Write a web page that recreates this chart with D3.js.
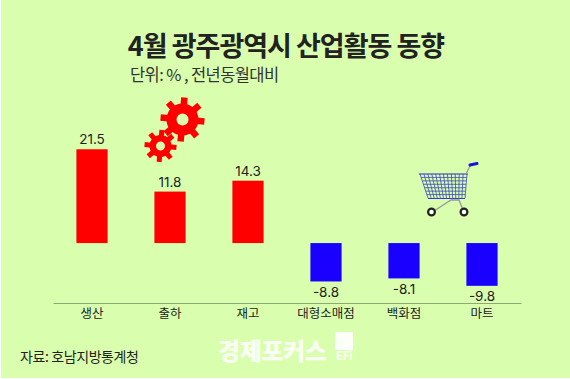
<!DOCTYPE html>
<html>
<head>
<meta charset="utf-8">
<script src="https://cdnjs.cloudflare.com/ajax/libs/d3/7.8.5/d3.min.js"></script>
<style>
html, body { margin: 0; padding: 0; background: #fff; }
svg { display: block; }
text { font-family: "Noto Sans CJK KR", sans-serif; }
</style>
</head>
<body>
<div id="plot"></div>
<script>
var categories = ["생산", "출하", "재고", "대형소매점", "백화점", "마트"]
var values = [21.5, 11.8, 14.3, -8.8, -8.1, -9.8]
var valueLabels = ["21.5", "11.8", "14.3", "-8.8", "-8.1", "-9.8"]

var width = 570, height = 379
var bg = "#d9ffae"

var svg = d3.select("#plot").append("svg")
  .attr("width", width).attr("height", height)

svg.append("rect").attr("x", 1).attr("y", 0)
  .attr("width", width - 1).attr("height", height - 1).attr("fill", bg)

var scalex = d3.scaleBand().domain(categories).range([53, 521]).paddingInner(0.6).paddingOuter(0.3)
var scaley = d3.scaleLinear().domain([-10, 25]).range([286.7, 134])

// bars
svg.append("g").selectAll("rect").data(values).enter().append("rect")
  .attr("x", (d, i) => scalex(categories[i]))
  .attr("width", scalex.bandwidth())
  .attr("y", d => scaley(Math.max(d, 0)))
  .attr("height", d => Math.abs(scaley(d) - scaley(0)))
  .attr("fill", d => d > 0 ? "#ff0000" : "#1a00ff")

// value labels
svg.append("g").selectAll("text").data(values).enter().append("text")
  .attr("x", (d, i) => scalex(categories[i]) + scalex.bandwidth() / 2)
  .attr("y", d => d > 0 ? scaley(d) - 5 : scaley(d) + 15.5)
  .attr("text-anchor", "middle")
  .attr("font-size", 13.5)
  .attr("fill", "#222")
  .style("font-family", "Inter, sans-serif")
  .text((d, i) => valueLabels[i])

// category axis
var axis = svg.append("g").attr("transform", "translate(0,303)")
  .call(d3.axisBottom(scalex).tickSize(0).tickPadding(6))
axis.select(".domain").attr("stroke", "#8fa878").attr("stroke-width", 1)
axis.selectAll("text").attr("font-size", 12.5).attr("fill", "#222")
  .style("font-family", '"Noto Sans CJK KR", sans-serif')

// titles
svg.append("text").attr("x", 286).attr("y", 56).attr("text-anchor", "middle")
  .attr("font-size", 27).attr("font-weight", 700).attr("letter-spacing", -1)
  .attr("fill", "#222").text("4월 광주광역시 산업활동 동향")
svg.append("text").attr("x", 130).attr("y", 81)
  .attr("font-size", 16.5).attr("letter-spacing", -0.6)
  .attr("fill", "#333").text("단위: % , 전년동월대비")
svg.append("text").attr("x", 20).attr("y", 362)
  .attr("font-size", 14).attr("letter-spacing", -0.4)
  .attr("fill", "#222").text("자료: 호남지방통계청")

// logo
svg.append("text").attr("x", 218).attr("y", 360)
  .attr("font-size", 24).attr("font-weight", 900).attr("letter-spacing", -0.4)
  .attr("fill", "#fff").attr("fill-opacity", 0.9).text("경제포커스")
svg.append("rect").attr("x", 335).attr("y", 332).attr("width", 18).attr("height", 18)
  .attr("fill", "#fff").attr("fill-opacity", 0.9)
svg.append("text").attr("x", 336).attr("y", 360)
  .attr("font-size", 12).attr("font-weight", 700)
  .attr("fill", "#fff").attr("fill-opacity", 0.9)
  .style("font-family", "Roboto, sans-serif").text("EFi")

// gears
function gear(cx, cy, r, hole, teeth, toothLen, toothW) {
  var g = svg.append("g").attr("transform", "translate(" + cx + "," + cy + ")")
  g.append("circle").attr("r", (r + hole) / 2).attr("fill", "none")
    .attr("stroke", "#ff0000").attr("stroke-width", r - hole)
  g.selectAll("rect").data(d3.range(teeth)).enter().append("rect")
    .attr("x", -toothW / 2).attr("y", -r - toothLen)
    .attr("width", toothW).attr("height", toothLen + 2)
    .attr("fill", "#ff0000")
    .attr("transform", d => "rotate(" + (d * 360 / teeth + 5) + ")")
}
gear(182.5, 119.5, 16, 6, 8, 6, 6.5)
gear(160.5, 146, 11, 4.5, 8, 5, 5)

// cart
var cart = svg.append("g")
var cartLeft = d3.scaleLinear().domain([0, 1]).range([420, 428])
var cartRight = d3.scaleLinear().domain([0, 1]).range([467, 465])
var cartY = d3.scaleLinear().domain([0, 1]).range([174, 198])
d3.range(1, 7).forEach(function (i) {
  var t = i / 7
  cart.append("line").attr("x1", cartLeft(t)).attr("x2", cartRight(t))
    .attr("y1", cartY(t)).attr("y2", cartY(t))
    .attr("stroke", "#3c46c0").attr("stroke-width", 0.8)
})
d3.range(0, 13).forEach(function (i) {
  var t = i / 12
  cart.append("line")
    .attr("x1", cartLeft(0) + t * (cartRight(0) - cartLeft(0)))
    .attr("x2", cartLeft(1) + t * (cartRight(1) - cartLeft(1)))
    .attr("y1", cartY(0)).attr("y2", cartY(1))
    .attr("stroke", "#3c46c0").attr("stroke-width", 0.8)
})
cart.append("line").attr("x1", 419).attr("x2", 468).attr("y1", 174).attr("y2", 174)
  .attr("stroke", "#2a2ad0").attr("stroke-width", 1.2)
cart.append("line").attr("x1", 428).attr("x2", 465).attr("y1", 198.5).attr("y2", 198.5)
  .attr("stroke", "#3a3ac8").attr("stroke-width", 1.2)
cart.append("path").attr("d", "M466 174L471 164")
  .attr("stroke", "#999").attr("stroke-width", 1.3).attr("fill", "none")
cart.append("path").attr("d", "M470 165L477 163.5")
  .attr("stroke", "#1a10d8").attr("stroke-width", 3).attr("stroke-linecap", "round")
cart.append("path").attr("d", "M434 211L451 200H459L463 210")
  .attr("stroke", "#999").attr("stroke-width", 1.3).attr("fill", "none")
cart.selectAll("circle").data([431.5, 464]).enter().append("circle")
  .attr("cx", d => d).attr("cy", 212).attr("r", 3.4)
  .attr("fill", "#fff").attr("stroke", "#222").attr("stroke-width", 2.2)
</script>
</body>
</html>
